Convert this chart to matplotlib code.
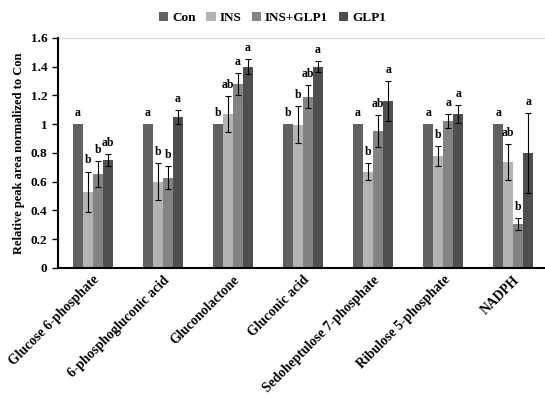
import numpy as np
import matplotlib
matplotlib.use("Agg")
import matplotlib.pyplot as plt
import matplotlib.transforms as mtransforms

plt.rcParams['font.family'] = 'Liberation Serif'
plt.rcParams['font.weight'] = 'bold'

categories = ["Glucose 6-phosphate", "6-phosphogluconic acid", "Gluconolactone",
              "Gluconic acid", "Sedoheptulose 7-phosphate", "Ribulose 5-phosphate", "NADPH"]
groups = ["Con", "INS", "INS+GLP1", "GLP1"]
colors = ["#616161", "#b3b3b3", "#838383", "#4f4f4f"]

con = [1.0, 1.0, 1.0, 1.0, 1.0, 1.0, 1.0]
ins = [0.53, 0.60, 1.07, 0.995, 0.67, 0.78, 0.735]
ins_glp1 = [0.65, 0.625, 1.28, 1.19, 0.95, 1.02, 0.305]
glp1 = [0.75, 1.05, 1.40, 1.40, 1.16, 1.07, 0.80]

con_err = [0, 0, 0, 0, 0, 0, 0]
ins_err = [0.14, 0.13, 0.125, 0.13, 0.06, 0.07, 0.125]
ins_glp1_err = [0.09, 0.08, 0.077, 0.08, 0.11, 0.05, 0.04]
glp1_err = [0.04, 0.05, 0.055, 0.04, 0.14, 0.06, 0.28]

letters = [["a", "b", "b", "ab"],
           ["a", "b", "b", "a"],
           ["b", "ab", "a", "a"],
           ["b", "b", "ab", "a"],
           ["a", "b", "ab", "a"],
           ["a", "b", "a", "a"],
           ["a", "ab", "b", "a"]]

values = [con, ins, ins_glp1, glp1]
errors = [con_err, ins_err, ins_glp1_err, glp1_err]

fig = plt.figure(figsize=(5.45, 3.98), dpi=100)
ax = fig.add_axes([0.106, 0.327, 0.90, 0.578])

x = np.arange(len(categories))
w = 0.143
for i in range(4):
    pos = x + (i - 1.5) * w
    ax.bar(pos, values[i], w, color=colors[i], label=groups[i], linewidth=0, zorder=2)
    err = np.array(errors[i])
    mask = err > 0
    ax.errorbar(pos[mask], np.array(values[i])[mask], yerr=err[mask], fmt='none',
                ecolor='black', elinewidth=0.8, capsize=2.5, capthick=0.8, zorder=3)
    for j in range(len(categories)):
        top = values[i][j] + errors[i][j]
        ax.text(pos[j], top + 0.035, letters[j][i], ha='center', va='bottom',
                fontsize=8.5, fontweight='bold')

ax.axhline(1.6, color='#d9d9d9', linewidth=0.8, zorder=1)
ax.set_ylim(0, 1.6)
ax.set_xlim(-0.5, 6.5)
ax.set_yticks([0, 0.2, 0.4, 0.6, 0.8, 1.0, 1.2, 1.4, 1.6])
ax.set_yticklabels(["0", "0.2", "0.4", "0.6", "0.8", "1", "1.2", "1.4", "1.6"], fontsize=9.5)
ax.set_xticks(x)
ax.set_xticklabels(categories, rotation=45, ha='right', rotation_mode='anchor', fontsize=9.8)
offset = mtransforms.ScaledTranslation(5 / 100, -1 / 100, fig.dpi_scale_trans)
for lbl in ax.get_xticklabels():
    lbl.set_transform(lbl.get_transform() + offset)
ax.tick_params(axis='x', length=0, pad=4)
ax.tick_params(axis='y', length=4, width=1, direction='out')
ax.set_ylabel("Relative peak area normalized to Con", fontsize=9, fontweight='bold')
for s in ['top', 'right']:
    ax.spines[s].set_visible(False)
ax.spines['left'].set_linewidth(1.5)
ax.spines['bottom'].set_linewidth(1.5)

fig.legend(loc='upper center', bbox_to_anchor=(0.5, 1.0), ncol=4, frameon=False,
           fontsize=9.5, handlelength=0.7, handleheight=0.7, handletextpad=0.3,
           columnspacing=0.8)

fig.savefig("out.png", dpi=100)
